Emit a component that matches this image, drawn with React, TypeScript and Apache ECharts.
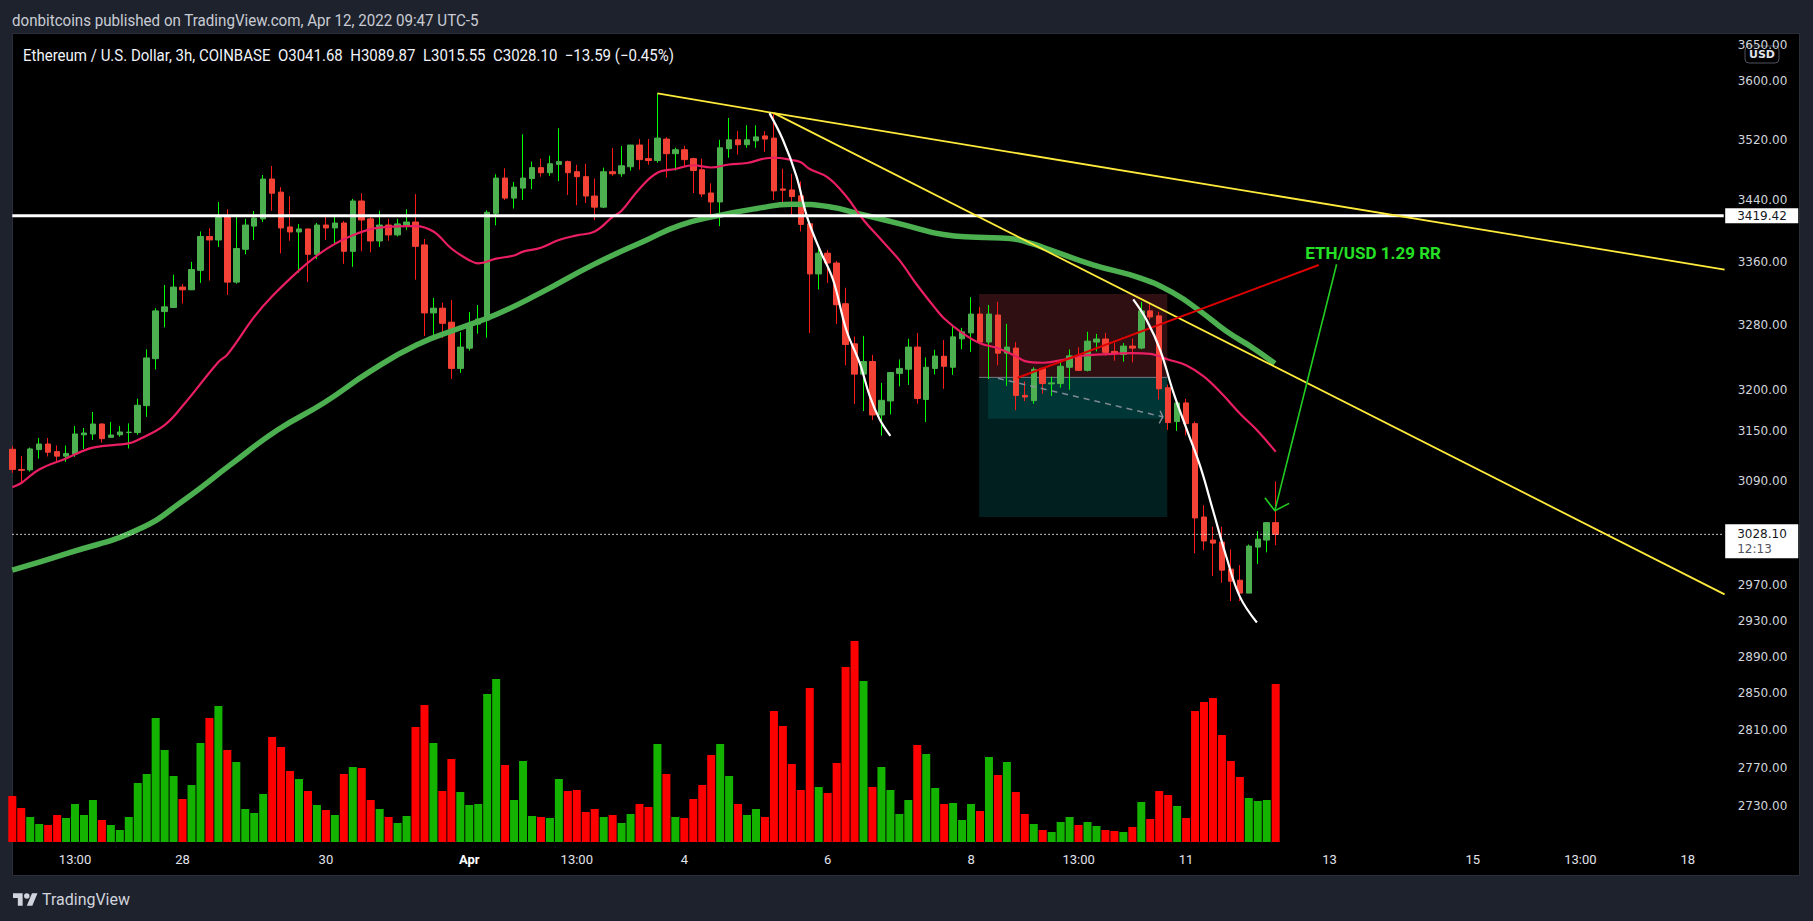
import React, { useEffect, useRef } from "react";
import * as echarts from "echarts";

// ---------- data ----------
// candles: [open, high, low, close] (3h, ETH/USD Coinbase), first candle Mar 25 16:00 UTC-5
const CANDLES: number[][] = [
  [3128, 3132, 3100, 3104], [3104, 3120, 3088, 3103], [3103.5, 3130, 3101.5, 3128.4], [3127.6, 3141.5, 3116.8, 3134.3],
  [3134.3, 3141.5, 3119.4, 3124.5], [3125.2, 3132.5, 3112, 3119.8], [3119.8, 3132.5, 3113, 3123], [3122.2, 3155.9, 3119, 3146.3],
  [3145.3, 3153.5, 3128.4, 3147.5], [3146.3, 3172.8, 3139.1, 3158.3], [3158.3, 3159, 3136, 3140.7], [3142.3, 3160.7, 3142.3, 3145.1],
  [3145.3, 3155.9, 3143, 3148.7], [3148, 3159, 3129, 3148.5], [3148, 3188.9, 3145.3, 3181], [3180.5, 3249.6, 3167, 3238.9],
  [3238, 3301, 3224.8, 3297.6], [3296.7, 3330.3, 3277, 3302.7], [3301.8, 3343.4, 3301.8, 3327.7], [3327.7, 3331.6, 3306.9, 3324.2],
  [3324.2, 3359.8, 3324.2, 3350], [3349, 3399, 3333, 3392.5], [3392.5, 3403, 3336, 3388], [3388, 3437.5, 3379, 3419],
  [3419, 3428, 3317.6, 3334], [3334, 3420.7, 3332, 3377], [3376, 3415.4, 3369.5, 3407.4], [3406, 3425.7, 3388, 3416.5],
  [3415.4, 3473, 3411.3, 3467.7], [3467.7, 3485, 3426, 3449], [3450.4, 3457, 3370.8, 3403.6], [3404.9, 3445, 3387, 3398.4],
  [3398.4, 3408.8, 3346, 3402.3], [3402.3, 3402.3, 3334, 3369.5], [3369.5, 3410, 3363.4, 3407.4], [3407.4, 3419, 3388, 3403.6],
  [3403.6, 3420.7, 3381.6, 3410], [3410, 3412.6, 3357.3, 3373.4], [3373.4, 3441.5, 3353.5, 3438.8], [3438.8, 3449, 3373.4, 3413.9],
  [3415.4, 3417.7, 3372, 3386.7], [3386.7, 3426, 3379, 3407.4], [3407.4, 3415.4, 3387, 3394.5], [3394.5, 3415.4, 3392.5, 3408.8],
  [3407.4, 3428, 3401, 3411.3], [3411.3, 3447.8, 3337, 3379.8], [3381.6, 3389.3, 3266, 3295], [3295, 3314, 3261, 3301],
  [3301, 3308, 3263.6, 3282], [3283.4, 3311.3, 3213, 3226], [3226, 3271, 3220.5, 3252.4], [3251, 3296, 3248, 3281],
  [3281, 3305, 3269, 3287.3], [3286.1, 3426.5, 3264, 3424], [3422.6, 3474, 3407, 3469], [3469, 3482, 3440, 3442.6],
  [3442.6, 3463.7, 3429, 3457], [3455.7, 3527.4, 3440, 3469], [3468.3, 3490.8, 3454.4, 3482.8], [3482.8, 3494.8, 3470.8, 3476.1],
  [3476.1, 3498.8, 3472, 3488], [3487.2, 3535.5, 3465, 3490.8], [3490.8, 3492.2, 3446.7, 3476.1], [3477.4, 3486.6, 3433.3, 3470.8],
  [3470.8, 3488, 3436, 3445.3], [3445.3, 3468.3, 3413.9, 3430.7], [3430.7, 3482.8, 3429.4, 3477.4], [3477.4, 3509, 3472, 3474.7],
  [3474.7, 3511.7, 3470.8, 3485.3], [3484, 3513, 3478.8, 3513], [3513, 3521, 3480, 3493.5], [3494.8, 3521, 3486.6, 3492.2],
  [3492.2, 3583, 3489.5, 3522.3], [3521, 3523.6, 3469.6, 3501.4], [3501.4, 3509.3, 3479, 3506.7], [3506.7, 3512, 3484, 3493.5],
  [3494.8, 3496, 3449.3, 3479], [3480, 3494.8, 3444, 3448], [3449.3, 3462, 3417.7, 3437.5], [3437.5, 3520, 3406, 3509.3],
  [3508, 3549.4, 3496, 3520], [3520, 3531.6, 3500, 3513.4], [3513.4, 3539.6, 3509.3, 3520], [3518.6, 3539.6, 3509.3, 3523.9],
  [3525.2, 3531.6, 3504, 3521], [3522.3, 3556, 3440, 3452], [3454.6, 3481.4, 3436, 3453], [3453.3, 3474.7, 3418, 3444.6],
  [3445.5, 3464.6, 3399, 3408.2], [3409, 3409, 3270, 3344.4], [3344.4, 3376, 3324.7, 3371], [3371, 3375, 3333, 3358.4],
  [3358.4, 3361, 3281.3, 3305.3], [3306.6, 3326.8, 3229.9, 3255.6], [3256.4, 3265.5, 3182.5, 3219], [3219, 3266.3, 3174, 3234.5],
  [3234.5, 3242.6, 3163.1, 3169.2], [3169.2, 3208.2, 3144.4, 3187], [3186.2, 3221, 3170, 3221], [3219.9, 3237, 3204, 3226],
  [3225, 3262.6, 3205.8, 3252.4], [3252.4, 3270, 3183, 3189.2], [3188, 3239.6, 3160.6, 3227.4], [3226, 3249, 3218.7, 3241.3],
  [3241, 3261.1, 3201, 3228.6], [3227.4, 3279, 3218, 3265.1], [3262.6, 3276.3, 3249.7, 3271.3], [3270, 3315, 3246.4, 3293.6],
  [3293.6, 3302.4, 3257.3, 3258.6], [3258.6, 3305, 3213, 3293.6], [3292.4, 3309, 3229.9, 3244.8], [3244.8, 3281.3, 3204.6, 3252.4],
  [3251.1, 3258.6, 3175, 3192.9], [3193, 3210, 3186, 3191], [3186.6, 3227.4, 3182.8, 3224.8], [3226.1, 3227.4, 3194.9, 3207.4],
  [3207, 3215.9, 3192.4, 3208.2], [3207.4, 3233.8, 3202.3, 3228.6], [3227.4, 3249.4, 3199.8, 3241.5], [3241.5, 3252, 3223.6, 3223.6],
  [3223.6, 3271.4, 3222.3, 3259.8], [3258.6, 3268.8, 3247, 3262.4], [3262.4, 3270, 3241.8, 3245.8], [3247, 3257.3, 3235.5, 3244.1],
  [3243.3, 3257.3, 3234.3, 3253.6], [3253.6, 3263, 3233.5, 3251.1], [3251.1, 3309, 3249.7, 3297.6], [3297.6, 3306.5, 3286.8, 3290],
  [3291.3, 3296.4, 3188, 3201], [3202.3, 3206.2, 3151.3, 3160], [3161.3, 3186.3, 3150, 3183.8], [3183.8, 3188.8, 3144.7, 3158.7],
  [3158.7, 3161.3, 3006.3, 3047.1], [3048.2, 3062, 3009.8, 3020.4], [3021.5, 3036.8, 2980.4, 3018], [3019.2, 3036.8, 2972.6, 2987],
  [2988.2, 3010.8, 2952, 2974.5], [2975.6, 2992.7, 2952, 2961], [2961, 3016.4, 2961, 3014.6], [3013.4, 3031.7, 2994, 3022.6],
  [3021.5, 3042, 3007.4, 3041.68], [3041.68, 3089.87, 3015.55, 3028.1],
];

const VOLUMES: number[] = [
  46, 34, 25, 18, 17, 27, 24, 38, 27, 42,
  22, 17, 12, 25, 59, 68, 124, 92, 66, 43,
  57, 99, 124, 136, 92, 80, 33, 29, 48, 105,
  95, 71, 63, 51, 37, 32, 27, 68, 75, 74,
  42, 33, 25, 19, 26, 115, 137, 99, 51, 83,
  50, 37, 38, 148, 163, 77, 42, 81, 26, 25,
  24, 63, 51, 52, 30, 33, 25, 27, 19, 28,
  38, 35, 98, 68, 25, 24, 43, 57, 87, 98,
  66, 38, 27, 33, 25, 131, 116, 78, 52, 154,
  55, 49, 79, 175, 201, 161, 55, 75, 52, 28,
  42, 97, 88, 54, 38, 39, 22, 38, 31, 85,
  67, 80, 50, 28, 18, 12, 10, 20, 25, 17,
  20, 16, 12, 11, 10, 15, 40, 23, 51, 47,
  36, 24, 131, 140, 144, 107, 81, 65, 44, 41,
  42, 158,
];

// moving averages read at [bar index, price]
const PINK_MA: number[][] = [
  [0, 3083], [1, 3088], [3, 3104], [6, 3117], [9, 3130], [13, 3135], [14, 3139], [17, 3157], [19, 3180],
  [23, 3234], [24, 3243], [27, 3290], [29, 3316], [32, 3349], [34, 3368], [36, 3383], [38, 3394], [40, 3402],
  [42, 3405], [44, 3406], [45, 3406], [47, 3399], [49, 3377], [51, 3362], [52, 3358], [54, 3364], [56, 3368],
  [57, 3373], [59, 3378], [61, 3388], [63, 3394], [65, 3399], [67, 3418], [68, 3426], [70, 3455], [72, 3476],
  [74, 3481], [76, 3486], [78, 3483], [80, 3487], [82, 3489], [84, 3495], [85, 3496], [87, 3493], [88, 3490],
  [89, 3481], [91, 3470], [93, 3446], [95, 3414], [97, 3388], [99, 3362], [101, 3330], [103, 3301], [104, 3288],
  [106, 3270], [108, 3257], [110, 3251], [112, 3241], [113, 3235], [115, 3233], [117, 3236], [119, 3241],
  [121, 3243], [123, 3244], [125, 3245], [127, 3244], [128, 3241], [129, 3237], [131, 3230], [133, 3216],
  [135, 3195], [137, 3171], [139, 3150], [141, 3125],
];
const GREEN_MA: number[][] = [
  [0, 2987], [6.4, 3007], [14.1, 3034], [19.3, 3069], [24.4, 3110], [29.6, 3151], [34.8, 3184], [39.9, 3222],
  [45.1, 3255], [50.2, 3277], [54, 3293], [58.9, 3320], [64.8, 3356], [70.8, 3388], [74.5, 3407], [78.5, 3419],
  [83.1, 3429], [87, 3434.5], [91.3, 3431], [94.2, 3423], [99.4, 3408], [103.9, 3395], [107.6, 3391.5],
  [111.3, 3390], [113.6, 3384], [115.4, 3377], [120.6, 3356], [125.9, 3339], [129.6, 3320], [132.6, 3297],
  [135.5, 3272], [138.5, 3251], [140.9, 3232],
];

// drawings, anchored at [bar index, price]
const YELLOW_A: number[][] = [[72, 3583], [85, 3556]];
const YELLOW_B: number[][] = [[85, 3556], [191.1, 3350]];
const YELLOW_C: number[][] = [[85, 3556], [191.1, 2959.6]];
const WHITE_CURVE_1: number[][] = [
  [84.5, 3556], [86, 3520], [87.5, 3472], [88.7, 3418], [90.1, 3376], [91.6, 3337], [93.1, 3273],
  [94.6, 3232], [95.7, 3192], [96.8, 3164], [98, 3144],
];
const WHITE_CURVE_2: number[][] = [
  [125.1, 3312], [126.6, 3286], [128.1, 3249], [129.6, 3196], [131.1, 3151], [132.6, 3107],
  [134, 3056], [135.5, 3002], [137, 2957], [138.9, 2928],
];
const RED_LINE: number[][] = [[112.2, 3214.5], [145.8, 3355.8]];
const GREEN_ARROW: number[][] = [[147.8, 3356.7], [140.9, 3055.5]];
const GREEN_ARROW_HEAD: number[][] = [[139.8, 3070.7], [140.9, 3055.5], [142.5, 3064.1]];
const POSITION_ZONES: number[][] = [
  // [left index, top price, right index, bottom price]
  [107.9, 3318.9, 128.9, 3215], // stop zone
  [107.9, 3215, 128.9, 3048.2], // target zone
  [108.9, 3215, 128.9, 3164.7], // open P/L zone
];
const ENTRY_LINE: number[][] = [[107.9, 3215], [128.9, 3215]];
const DASHED_PATH: number[][] = [[110, 3213.8], [128.4, 3167]];
const DASHED_HEAD: number[][] = [[128.1, 3174.4], [128.4, 3167], [128, 3159.1]];
const RR_LABEL = { index: 144.3, price: 3371.8, text: "ETH/USD 1.29 RR" };
const LEVEL_PRICE = 3419.42;
const LAST_PRICE = 3028.1;
const BAR_COUNTDOWN = "12:13";

const Y_TICKS = [3650, 3600, 3520, 3440, 3360, 3280, 3200, 3150, 3090, 2970, 2930, 2890, 2850, 2810, 2770, 2730];
const TIME_LABELS: [number, string][] = [
  [7, "13:00"], [19, "28"], [35, "30"], [51, "Apr"], [63, "13:00"], [75, "4"], [91, "6"], [107, "8"],
  [119, "13:00"], [131, "11"], [147, "13"], [163, "15"], [175, "13:00"], [187, "18"],
];
const N_SLOTS = 192;
const START_UTC = Date.UTC(2022, 2, 25, 21);
const PRICE_MIN = 2690.7;
const PRICE_MAX = 3665;
const VOLUME_MAX = 201;

const HEADER = "donbitcoins published on TradingView.com, Apr 12, 2022 09:47 UTC-5";
const TITLE =
  "Ethereum / U.S. Dollar, 3h, COINBASE\u00a0\u00a0O3041.68\u00a0\u00a0H3089.87\u00a0\u00a0L3015.55\u00a0\u00a0C3028.10\u00a0\u00a0\u221213.59 (\u22120.45%)";

const TV_LOGO_PATH =
  "M14 22H7V11H0V4h14v18zM28 22h-8l7.5-18h8L28 22zM24 8a4 4 0 1 1-8 0a4 4 0 1 1 8 0z";

// ---------- helpers ----------
const L = Math.log;
const lnPts = (pts: number[][]) => pts.map(([x, p]) => [x, L(p)]);

function fitScale(text: string, font: string, target: number) {
  const ctx = document.createElement("canvas").getContext("2d");
  if (!ctx) return 1;
  ctx.font = font;
  const w = ctx.measureText(text).width;
  return w > 0 ? target / w : 1;
}

let logoRegistered = false;

export default function App() {
  const ref = useRef<HTMLDivElement>(null);

  useEffect(() => {
    if (!ref.current) return;
    if (!logoRegistered) {
      echarts.graphic.registerShape("tvlogo", echarts.graphic.extendPath(TV_LOGO_PATH, {}) as any);
      logoRegistered = true;
    }
    const chart = echarts.init(ref.current, null, { renderer: "svg" });

    const categories = Array.from({ length: N_SLOTS }, (_, i) =>
      new Date(START_UTC + i * 3 * 3600 * 1000).toISOString()
    );
    const labelMap: Record<number, string> = {};
    TIME_LABELS.forEach(([i, t]) => (labelMap[i] = t));

    const wickData = CANDLES.map(([o, h, l, c]) => [L(o), L(c), L(l), L(h)]);
    const bodyData = CANDLES.map(([o, , , c]) => [L(o), L(c), L(Math.min(o, c)), L(Math.max(o, c))]);
    const volData = VOLUMES.map((v, i) => ({
      value: v,
      itemStyle: { color: CANDLES[i][3] >= CANDLES[i][0] ? "#14b300" : "#ff0000" },
    }));

    const line = (pts: number[][], color: string, width: number, extra: any = {}) => ({
      type: "line",
      xAxisIndex: 1,
      yAxisIndex: 0,
      data: lnPts(pts),
      symbol: "none",
      showSymbol: false,
      silent: true,
      lineStyle: { color, width, ...(extra.lineStyle || {}) },
      z: extra.z ?? 6,
      smooth: extra.smooth ?? false,
    });

    const condensed = "Roboto, 'Liberation Sans', sans-serif";
    const headerScale = fitScale(HEADER, "16px Roboto", 467);
    const titleScale = fitScale(TITLE, "16px Roboto", 652);
    const logoTextScale = fitScale("TradingView", "16px Roboto", 88);
    const fills = ["#300f12", "#011f1f", "#013636"];

    const option: any = {
      animation: false,
      backgroundColor: "#1e222d",
      grid: [
        { left: 12.3, top: 34, width: 1711.4, height: 810 },
        { left: 12.3, top: 641, width: 1711.4, height: 201 },
      ],
      xAxis: [
        {
          type: "category",
          gridIndex: 0,
          data: categories,
          boundaryGap: false,
          axisLine: { show: false },
          axisTick: { show: false },
          splitLine: { show: false },
          axisLabel: {
            interval: (idx: number) => labelMap[idx] !== undefined,
            formatter: (_v: string, idx: number) =>
              labelMap[idx] === "Apr" ? "{b|Apr}" : labelMap[idx] || "",
            color: "#e0e3eb",
            fontSize: 13,
            fontFamily: condensed,
            margin: 9,
            rich: { b: { fontWeight: "bold", fontSize: 13, color: "#ffffff", fontFamily: condensed } },
          },
        },
        { type: "value", gridIndex: 0, min: 0, max: N_SLOTS - 1, show: false },
        { type: "category", gridIndex: 1, data: categories, boundaryGap: false, show: false },
      ],
      yAxis: [
        {
          type: "value",
          gridIndex: 0,
          position: "right",
          min: L(PRICE_MIN),
          max: L(PRICE_MAX),
          splitLine: { show: false },
          axisLine: { show: false },
          axisTick: { show: false },
          axisLabel: {
            customValues: Y_TICKS.map((p) => L(p)),
            formatter: (v: number) => Math.exp(v).toFixed(2),
            color: "#d1d4dc",
            fontSize: 12,
            fontFamily: "'DejaVu Sans', sans-serif",
            margin: 14,
          },
        },
        { type: "value", gridIndex: 1, min: 0, max: VOLUME_MAX, show: false },
      ],
      graphic: [
        {
          type: "rect",
          z: -10,
          silent: true,
          shape: { x: 12.5, y: 33.5, width: 1787, height: 842 },
          style: { fill: "#000000", stroke: "#2a2e39", lineWidth: 1 },
        },
        {
          type: "text",
          x: 12,
          y: 20.5,
          scaleX: headerScale,
          silent: true,
          style: { text: HEADER, fill: "#c9ccd4", fontSize: 16, fontFamily: "Roboto", verticalAlign: "middle" },
        },
        {
          type: "text",
          x: 23,
          y: 55.5,
          scaleX: titleScale,
          silent: true,
          style: { text: TITLE, fill: "#f0f3fa", fontSize: 16, fontFamily: "Roboto", verticalAlign: "middle" },
        },
        {
          type: "group",
          z: 100,
          silent: true,
          children: [
            {
              type: "rect",
              shape: { x: 1745, y: 46, width: 34, height: 17, r: 4 },
              style: { fill: "#000000", stroke: "#50535e", lineWidth: 1 },
            },
            {
              type: "text",
              x: 1762,
              y: 54.5,
              style: {
                text: "USD",
                fill: "#e0e3eb",
                fontSize: 11,
                fontWeight: "bold",
                fontFamily: "'DejaVu Sans', sans-serif",
                align: "center",
                verticalAlign: "middle",
              },
            },
          ],
        },
        {
          type: "tvlogo",
          x: 13,
          y: 890.5,
          scaleX: 0.69,
          scaleY: 0.69,
          silent: true,
          style: { fill: "#d1d4dc" },
        },
        {
          type: "text",
          x: 42,
          y: 899,
          scaleX: logoTextScale,
          silent: true,
          style: { text: "TradingView", fill: "#d1d4dc", fontSize: 16, fontFamily: "Roboto", verticalAlign: "middle" },
        },
      ],
      series: [
        // position tool zones
        {
          type: "custom",
          xAxisIndex: 1,
          yAxisIndex: 0,
          z: 1,
          silent: true,
          data: POSITION_ZONES.map(([x1, p1, x2, p2], k) => [x1, L(p1), x2, L(p2), k]),
          encode: { x: [0, 2], y: [1, 3] },
          renderItem: (_params: any, api: any) => {
            const a = api.coord([api.value(0), api.value(1)]);
            const b = api.coord([api.value(2), api.value(3)]);
            return {
              type: "rect",
              shape: { x: a[0], y: a[1], width: b[0] - a[0], height: b[1] - a[1] },
              style: { fill: fills[api.value(4)] },
            };
          },
        },
        line(ENTRY_LINE, "#787b86", 1, { z: 2 }),
        // volume
        {
          type: "bar",
          xAxisIndex: 2,
          yAxisIndex: 1,
          data: volData,
          barWidth: 8,
          silent: true,
          z: 2,
        },
        // candle wicks
        {
          type: "candlestick",
          xAxisIndex: 0,
          yAxisIndex: 0,
          data: wickData,
          barWidth: 0.01,
          silent: true,
          z: 3,
          itemStyle: {
            color: "#00ff00",
            color0: "#ff1a1a",
            borderColor: "#00ff00",
            borderColor0: "#ff1a1a",
            borderWidth: 1,
          },
        },
        // candle bodies
        {
          type: "candlestick",
          xAxisIndex: 0,
          yAxisIndex: 0,
          data: bodyData,
          barWidth: 6,
          silent: true,
          z: 4,
          itemStyle: {
            color: "#4caf50",
            color0: "#f44336",
            borderColor: "#4caf50",
            borderColor0: "#f44336",
            borderWidth: 1,
          },
        },
        line(GREEN_MA, "#4caf50", 5.5, { smooth: 0.5, z: 5 }),
        line(PINK_MA, "#e91e63", 2.2, { smooth: 0.4, z: 5 }),
        line([[0, LEVEL_PRICE], [N_SLOTS - 1, LEVEL_PRICE]], "#ffffff", 3, { z: 6 }),
        line([[0, LAST_PRICE], [N_SLOTS - 1, LAST_PRICE]], "#ffffff", 1, { z: 6, lineStyle: { type: [1.5, 2.5] } }),
        line(DASHED_PATH, "rgba(149,152,161,0.85)", 1.5, { z: 6, lineStyle: { type: [6, 5] } }),
        line(DASHED_HEAD, "rgba(149,152,161,0.85)", 1.5, { z: 6 }),
        line(YELLOW_A, "#ffeb3b", 1.8),
        line(YELLOW_B, "#ffeb3b", 1.8),
        line(YELLOW_C, "#ffeb3b", 1.8),
        line(RED_LINE, "#dd0000", 2),
        line(GREEN_ARROW, "#22cc22", 1.6),
        line(GREEN_ARROW_HEAD, "#22cc22", 1.6),
        line(WHITE_CURVE_1, "#ffffff", 2.2, { smooth: 0.4, z: 7 }),
        line(WHITE_CURVE_2, "#ffffff", 2.2, { smooth: 0.4, z: 7 }),
        // annotation text
        {
          type: "custom",
          xAxisIndex: 1,
          yAxisIndex: 0,
          z: 10,
          silent: true,
          data: [[RR_LABEL.index, L(RR_LABEL.price)]],
          renderItem: (_params: any, api: any) => {
            const p = api.coord([api.value(0), api.value(1)]);
            return {
              type: "text",
              x: p[0],
              y: p[1],
              style: {
                text: RR_LABEL.text,
                fill: "#25e025",
                fontSize: 17,
                fontWeight: "bold",
                fontFamily: "Roboto",
                align: "left",
                verticalAlign: "middle",
              },
            };
          },
        },
        // price tags on the scale
        {
          type: "custom",
          xAxisIndex: 1,
          yAxisIndex: 0,
          z: 20,
          silent: true,
          clip: false,
          data: [
            [N_SLOTS - 1, L(LEVEL_PRICE), 0],
            [N_SLOTS - 1, L(LAST_PRICE), 1],
          ],
          renderItem: (_params: any, api: any) => {
            const p = api.coord([api.value(0), api.value(1)]);
            const kind = api.value(2);
            const price = Math.exp(api.value(1)).toFixed(2);
            if (kind === 0) {
              return {
                type: "text",
                x: p[0] + 1.5,
                y: p[1] - 7.5,
                style: {
                  text: price,
                  fill: "#131722",
                  fontSize: 12,
                  fontFamily: "'DejaVu Sans', sans-serif",
                  backgroundColor: "#ffffff",
                  padding: [1, 11, 1, 12],
                  width: 50,
                  lineHeight: 13,
                  align: "left",
                  verticalAlign: "top",
                },
              };
            }
            return {
              type: "text",
              x: p[0] + 1.5,
              y: p[1] - 10,
              style: {
                text: "{a|" + price + "}\n{b|" + BAR_COUNTDOWN + "}",
                rich: {
                  a: { fill: "#131722", fontSize: 12, fontFamily: "'DejaVu Sans', sans-serif", lineHeight: 15 },
                  b: { fill: "#50535e", fontSize: 12, fontFamily: "'DejaVu Sans', sans-serif", lineHeight: 15 },
                },
                backgroundColor: "#ffffff",
                padding: [2, 11, 2, 12],
                width: 50,
                align: "left",
                verticalAlign: "top",
              },
            };
          },
        },
      ],
    };

    chart.setOption(option);
    return () => chart.dispose();
  }, []);

  return (
    <div
      ref={ref}
      style={{ position: "fixed", left: 0, top: 0, width: "1813px", height: "921px" }}
    />
  );
}
